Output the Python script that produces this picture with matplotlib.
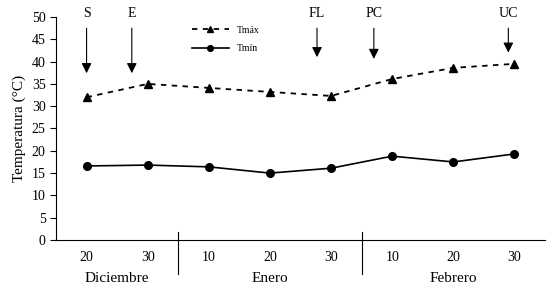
import matplotlib.pyplot as plt

plt.rcParams['font.family'] = ['Liberation Serif', 'DejaVu Serif']

# Datos
dias = ['20', '30', '10', '20', '30', '10', '20', '30']
meses = ['Diciembre', 'Enero', 'Febrero']
tmax = [32.0, 35.0, 34.1, 33.2, 32.3, 36.1, 38.6, 39.5]
tmin = [16.6, 16.8, 16.4, 15.0, 16.1, 18.8, 17.5, 19.3]

# Etapas fenologicas (posicion en el eje x, punta de la flecha)
etapas = ['S', 'E', 'FL', 'PC', 'UC']
etapa_x = [0.0, 0.74, 3.77, 4.70, 6.90]
etapa_punta = [37.4, 37.4, 41.0, 40.6, 42.0]

x = list(range(len(dias)))

fig = plt.figure(figsize=(5.5, 2.92), dpi=100)
ax = fig.add_axes([56 / 550, 1 - 240 / 292, 489 / 550, 223 / 292])

ax.plot(x, tmax, ls=(0, (3, 3)), color='black', lw=1.3, marker='^', ms=5.5, label='Tmáx')
ax.plot(x, tmin, ls='-', color='black', lw=1.2, marker='o', ms=5.5, label='Tmín')

ax.set_xlim(-0.5, 7.5)
ax.set_ylim(0, 50)
ax.set_yticks(range(0, 51, 5))
ax.set_xticks(x)
ax.set_xticklabels(dias)
ax.tick_params(axis='x', length=0, pad=8, labelsize=10)
ax.tick_params(axis='y', direction='out', length=4, labelsize=10)
ax.spines['top'].set_visible(False)
ax.spines['right'].set_visible(False)
ax.set_ylabel('Temperatura (°C)', fontsize=11)

# separadores de meses
for sep in [1.5, 4.5]:
    ax.plot([sep, sep], [1.8, -7.7], color='black', lw=0.8, clip_on=False)

for pos, mes in zip([0.5, 3.0, 6.0], meses):
    ax.text(pos, -8.6, mes, ha='center', va='center', fontsize=11)

# flechas de etapas
for nombre, ex, punta in zip(etapas, etapa_x, etapa_punta):
    ax.annotate('', xy=(ex, punta), xytext=(ex, 47.5),
                arrowprops=dict(arrowstyle='-|>', color='black', lw=0.8,
                                mutation_scale=15, shrinkA=0, shrinkB=0))
    ax.text(ex, 50.8, nombre, ha='center', va='center', fontsize=10, clip_on=False)

ax.legend(loc='upper left', bbox_to_anchor=(0.26, 1.0), frameon=False,
          fontsize=7, handlelength=3.8, labelspacing=1.0, markerscale=0.75)

fig.savefig('out.png', dpi=100)
